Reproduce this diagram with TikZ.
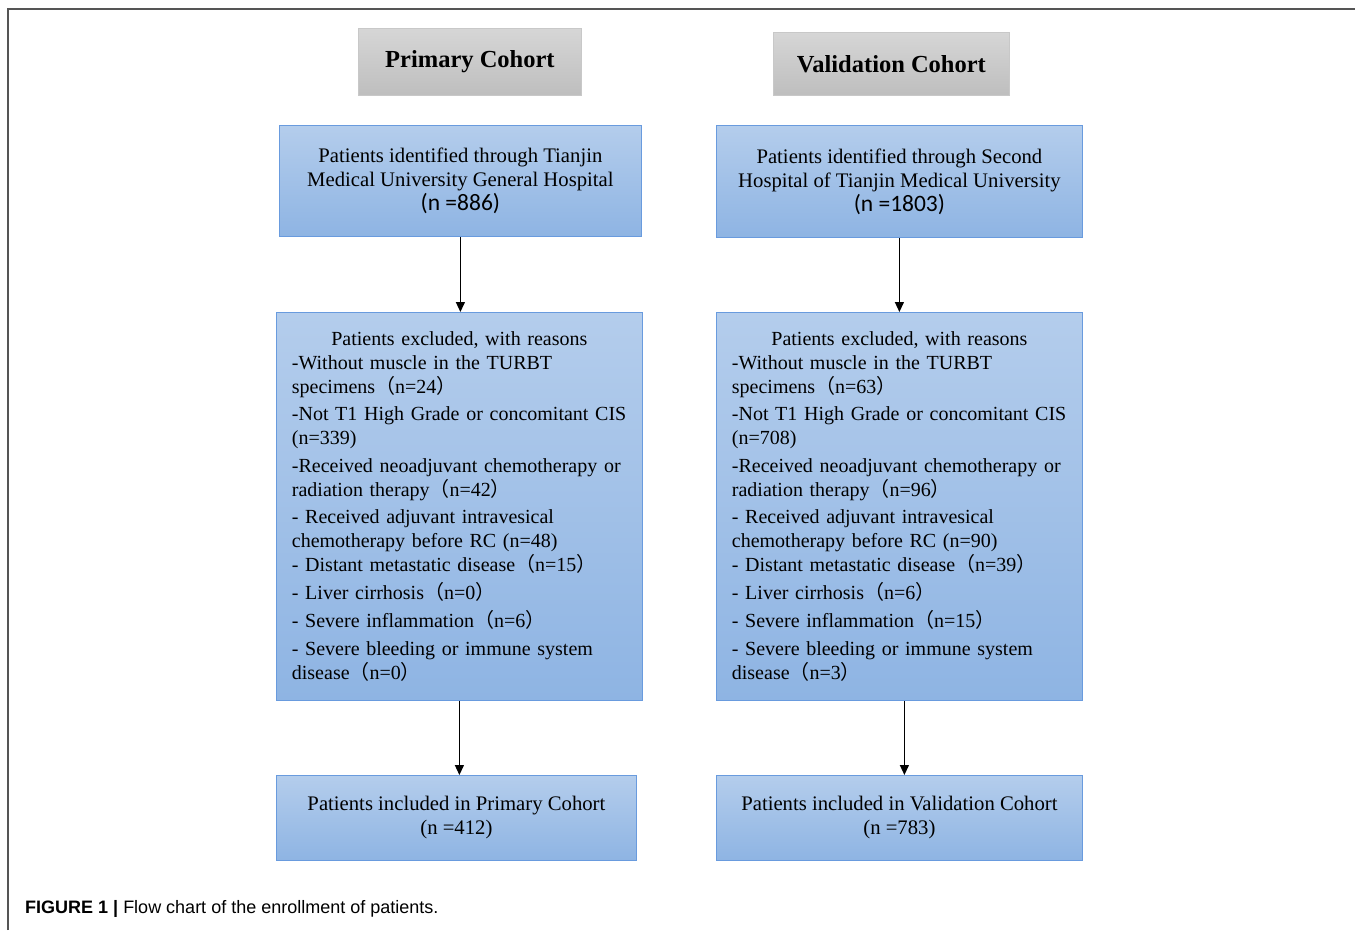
\documentclass[tikz,border=0pt]{standalone}
\usepackage{fontspec}
\setmainfont{Liberation Serif}
\newfontfamily\calfont{Carlito}
\newfontfamily\cjkfont{Noto Sans CJK SC}
\newfontfamily\capfont{Liberation Sans}
\newcommand\flp{{\cjkfont （}}
\newcommand\frp{{\cjkfont ）}}
\usetikzlibrary{arrows.meta}
\definecolor{bluetop}{RGB}{180,205,236}
\definecolor{bluebot}{RGB}{142,180,227}
\definecolor{blueline}{RGB}{105,155,222}
\definecolor{graytop}{RGB}{214,214,214}
\definecolor{graybot}{RGB}{190,190,190}
\definecolor{grayline}{RGB}{200,200,200}
\definecolor{framecol}{RGB}{85,85,85}
\tikzset{
  headbox/.style={draw=grayline, line width=0.8pt, top color=graytop, bottom color=graybot,
    anchor=north west, inner sep=0pt, font=\fontsize{24.5}{28}\selectfont\bfseries},
  bluebox/.style={draw=blueline, line width=0.8pt, top color=bluetop, bottom color=bluebot,
    anchor=north west, inner sep=0pt, font=\fontsize{20.7}{24}\selectfont},
  exbox/.style={bluebox, font=\fontsize{20}{24}\selectfont, align=left,
    minimum width=366pt, minimum height=388pt, text width=335pt, inner xsep=15pt},
  arr/.style={line width=1.3pt, -{Triangle[length=10pt,width=9pt]}},
}
\begin{document}
\begin{tikzpicture}[x=1pt,y=-1pt]
\useasboundingbox (0,0) rectangle (1355,930);
\draw[framecol, line width=1.3pt] (8,930) -- (8,9) -- (1355,9);

\node[headbox, minimum width=223pt, minimum height=67pt] (hp) at (358,28) {Primary Cohort};
\node[headbox, minimum width=236pt, minimum height=63pt] (hv) at (773,32) {Validation Cohort};

\node[bluebox, minimum width=362pt, minimum height=111pt, align=center] (b1l) at (279,125)
  {Patients identified through Tianjin\\Medical University General Hospital\\{\calfont\fontsize{23.5}{25}\selectfont (n =886)}};
\node[bluebox, minimum width=366pt, minimum height=112pt, align=center] (b1r) at (716,125)
  {Patients identified through Second\\Hospital of Tianjin Medical University\\{\calfont\fontsize{23.5}{25}\selectfont (n =1803)}};

\node[exbox] (b2l) at (276,312)
  {\makebox[\linewidth][c]{Patients excluded, with reasons}\\
   -Without muscle in the TURBT\\specimens\flp n=24\frp\\[3.5pt]
   -Not T1 High Grade or concomitant CIS\\(n=339)\\[3.5pt]
   -Received neoadjuvant chemotherapy or\\radiation therapy\flp n=42\frp\\[3.5pt]
   - Received adjuvant intravesical\\chemotherapy before RC (n=48)\\
   - Distant metastatic disease\flp n=15\frp\\[4pt]
   - Liver cirrhosis\flp n=0\frp\\[4pt]
   - Severe inflammation\flp n=6\frp\\[4pt]
   - Severe bleeding or immune system\\disease\flp n=0\frp};
\node[exbox] (b2r) at (716,312)
  {\makebox[\linewidth][c]{Patients excluded, with reasons}\\
   -Without muscle in the TURBT\\specimens\flp n=63\frp\\[3.5pt]
   -Not T1 High Grade or concomitant CIS\\(n=708)\\[3.5pt]
   -Received neoadjuvant chemotherapy or\\radiation therapy\flp n=96\frp\\[3.5pt]
   - Received adjuvant intravesical\\chemotherapy before RC (n=90)\\
   - Distant metastatic disease\flp n=39\frp\\[4pt]
   - Liver cirrhosis\flp n=6\frp\\[4pt]
   - Severe inflammation\flp n=15\frp\\[4pt]
   - Severe bleeding or immune system\\disease\flp n=3\frp};

\node[bluebox, minimum width=360pt, minimum height=85pt, align=center] (b3l) at (276,775)
  {Patients included in Primary Cohort\\(n =412)};
\node[bluebox, minimum width=366pt, minimum height=85pt, align=center] (b3r) at (716,775)
  {Patients included in Validation Cohort\\(n =783)};

\draw[arr] (b1l.south) -- (b1l.south |- b2l.north);
\draw[arr] (b2l.south) -- (b2l.south |- b3l.north);
\draw[arr] (b1r.south) -- (b2r.north);
\draw[arr] ([xshift=5pt]b2r.south) -- ([xshift=5pt]b3r.north);

\node[anchor=west, inner sep=0pt, font=\capfont\fontsize{18}{21}\selectfont] (cap) at (25,909)
  {\textbf{FIGURE 1 |} Flow chart of the enrollment of patients.};
\end{tikzpicture}
\end{document}
